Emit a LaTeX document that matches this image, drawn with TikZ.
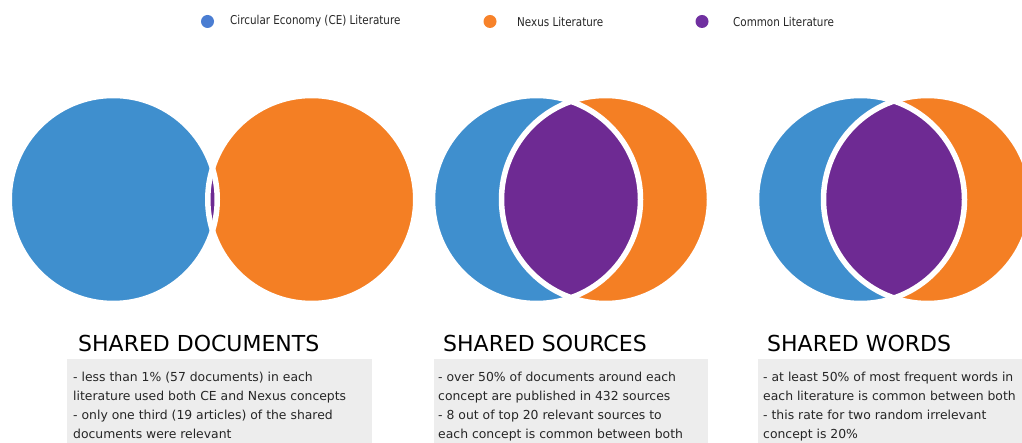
\documentclass[tikz,border=0pt]{standalone}
\usepackage{fontspec}
\setmainfont{DejaVu Sans}
\newfontfamily\legfont[FakeStretch=0.85]{DejaVu Sans}
\definecolor{cblue}{HTML}{3F8FCE}
\definecolor{corange}{HTML}{F47F24}
\definecolor{cpurple}{HTML}{6E2A93}
\definecolor{lblue}{HTML}{4A7DD2}
\definecolor{lorange}{HTML}{F7822A}
\definecolor{lpurple}{HTML}{7030A0}
\definecolor{boxgray}{HTML}{EDEDED}
\definecolor{txtdark}{HTML}{262626}
\begin{document}
\begin{tikzpicture}[x=1pt,y=-1pt,
  titletext/.style={anchor=base west, inner sep=0pt, font=\fontsize{22}{26}\selectfont, text=black},
  bodytext/.style={anchor=base west, inner sep=0pt, align=left, font=\fontsize{12.4}{18.9}\selectfont, text=txtdark},
  legtext/.style={anchor=west, inner sep=0pt, font=\legfont\fontsize{12.2}{14}\selectfont, text=txtdark},
  legdot/.style={circle, inner sep=0pt, minimum size=13pt},
  graybox/.style={fill=boxgray},
  ring/.style={draw=white, line width=5.5pt}]
\useasboundingbox (0,0) rectangle (1022,443);
\clip (0,0) rectangle (1022,443);

% legend
\node[legdot, fill=lblue] (d1) at (207.5,21.5) {};
\node[legtext] (t1) at (230,21.5) {Circular Economy (CE) Literature};
\node[legdot, fill=lorange] (d2) at (490,21.5) {};
\node[legtext] (t2) at (517,21.5) {Nexus Literature};
\node[legdot, fill=lpurple] (d3) at (702,21.5) {};
\node[legtext] (t3) at (733,21.5) {Common Literature};

% pair 1
\coordinate (b1) at (113.25,199.5);
\coordinate (o1) at (311.75,199.5);
\fill[cblue] (b1) circle (104);
\fill[corange] (o1) circle (104);
\begin{scope}\clip (b1) circle (104); \fill[cpurple] (o1) circle (104);\end{scope}
\draw[ring] (b1) circle (104);
\draw[ring] (o1) circle (104);

% pair 2
\coordinate (b2) at (536.5,199.5);
\coordinate (o2) at (605.5,199.5);
\fill[cblue] (b2) circle (104);
\fill[corange] (o2) circle (104);
\begin{scope}\clip (b2) circle (104); \fill[cpurple] (o2) circle (104);\end{scope}
\draw[ring] (b2) circle (104);
\draw[ring] (o2) circle (104);

% pair 3
\coordinate (b3) at (860.5,199.5);
\coordinate (o3) at (927.5,199.5);
\fill[cblue] (b3) circle (104);
\fill[corange] (o3) circle (104);
\begin{scope}\clip (b3) circle (104); \fill[cpurple] (o3) circle (104);\end{scope}
\draw[ring] (b3) circle (104);
\draw[ring] (o3) circle (104);

% boxes
\fill[graybox] (67,359) rectangle (372,450);
\fill[graybox] (434,359) rectangle (708,450);
\fill[graybox] (758,359) rectangle (1030,450);

\node[titletext] (h1) at (78,352) {SHARED DOCUMENTS};
\node[titletext] (h2) at (443,352) {SHARED SOURCES};
\node[titletext] (h3) at (767,352) {SHARED WORDS};

\node[bodytext] (p1) at (73,438.4) {- less than 1\% (57 documents) in each\\literature used both CE and Nexus concepts\\- only one third (19 articles) of the shared\\documents were relevant};
\node[bodytext] (p2) at (438,438.4) {- over 50\% of documents around each\\concept are published in 432 sources\\- 8 out of top 20 relevant sources to\\each concept is common between both};
\node[bodytext] (p3) at (763,438.4) {- at least 50\% of most frequent words in\\each literature is common between both\\- this rate for two random irrelevant\\concept is 20\%};
\end{tikzpicture}
\end{document}
